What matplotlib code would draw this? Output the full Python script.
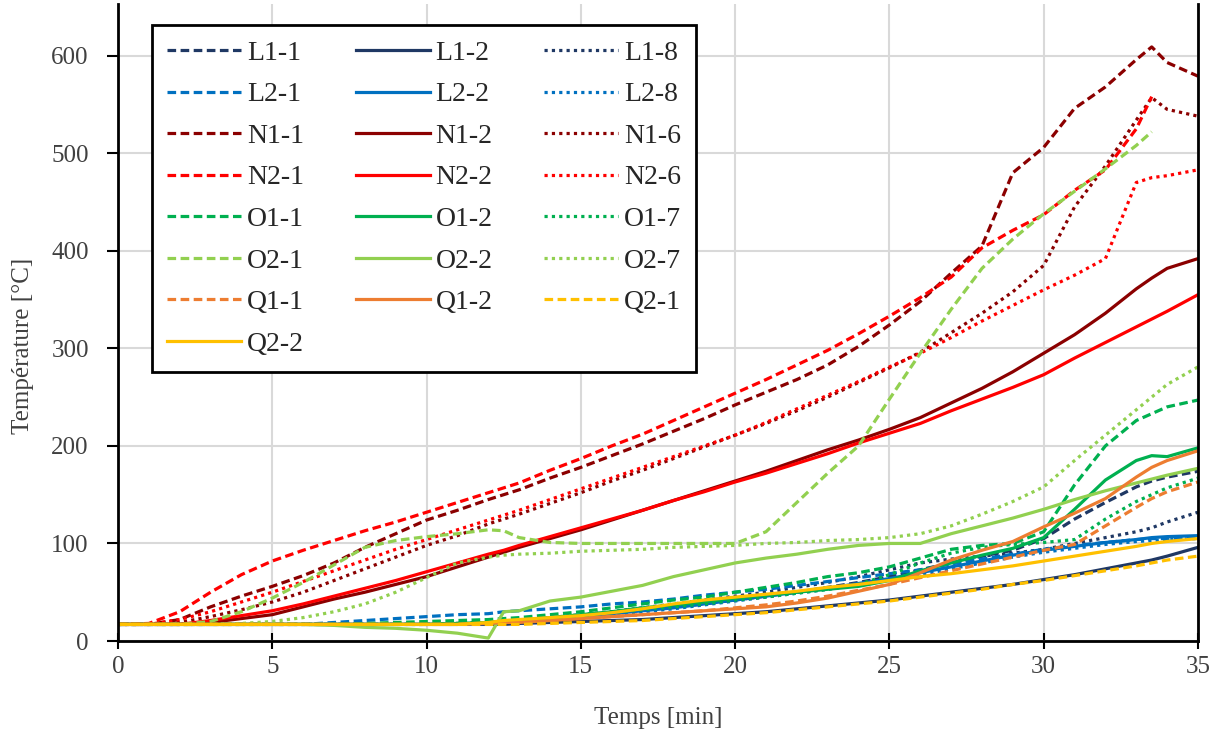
import numpy as np
import matplotlib
matplotlib.use("Agg")
import matplotlib.pyplot as plt

plt.rcParams['font.family'] = ['Liberation Serif', 'DejaVu Serif']

nan = np.nan

# time grid [min]
t = list(range(0, 13)) + [12.5] + list(range(13, 34)) + [33.5, 34, 35]

# temperatures [°C]
L1_1 = [17]*11 + [18, 19] + [20] + [21, 23, 26, 29, 32, 35, 38, 42, 46, 50, 55, 60, 66, 73, 80, 87, 93, 105, 125, 142, 158] + [164, 168, 174]
L1_2 = [17]*13 + [17] + [18, 19, 20, 21, 22, 24, 26, 28, 30, 33, 36, 39, 42, 46, 50, 54, 58, 63, 68, 74, 80] + [83, 87, 96]
L1_8 = [17]*11 + [18, 19] + [20] + [21, 24, 27, 30, 34, 38, 42, 46, 50, 55, 60, 66, 73, 80, 84, 87, 90, 94, 100, 106, 112] + [116, 122, 132]
L2_1 = [17, 17, 17, 17, 17, 17, 17, 19, 21, 23, 25, 27, 28] + [30] + [31, 33, 35, 38, 40, 43, 47, 50, 53, 57, 61, 65, 69, 73, 79, 84, 89, 94, 98, 101, 104] + [105, 105, 106]
L2_2 = [17]*12 + [18] + [19] + [20, 22, 25, 28, 31, 34, 38, 42, 46, 50, 54, 59, 64, 70, 76, 82, 88, 93, 97, 101, 104] + [106, 107, 108]
L2_8 = [17]*12 + [18] + [19] + [20, 22, 24, 27, 30, 33, 37, 41, 45, 49, 53, 58, 63, 68, 74, 80, 86, 91, 95, 99, 102] + [103, 104, 105]
N1_1 = [17, 17, 22, 35, 46, 56, 67, 80, 96, 110, 124, 134, 145] + [150] + [155, 167, 178, 190, 202, 215, 228, 242, 255, 268, 283, 302, 324, 348, 377, 405, 480, 506, 546, 568, 596] + [609, 593, 579]
N1_2 = [17, 17, 17, 19, 23, 27, 35, 43, 50, 58, 66, 76, 86] + [91] + [96, 105, 114, 124, 134, 144, 154, 164, 174, 185, 196, 206, 217, 229, 244, 259, 276, 295, 314, 336, 361] + [372, 382, 392]
N1_6 = [17, 17, 19, 25, 32, 40, 50, 62, 74, 86, 98, 108, 120] + [125] + [130, 141, 152, 164, 175, 187, 199, 211, 223, 236, 250, 265, 280, 296, 316, 336, 358, 385, 445, 487, 534] + [557, 545, 538]
N2_1 = [17, 18, 30, 50, 68, 82, 93, 103, 113, 122, 132, 142, 152] + [157] + [162, 175, 187, 200, 212, 226, 240, 254, 268, 283, 298, 315, 333, 352, 373, 403, 421, 437, 462, 483, 525] + [558, nan, nan]
N2_2 = [17, 17, 17, 21, 26, 31, 38, 46, 54, 62, 71, 80, 89] + [93] + [98, 107, 116, 125, 134, 144, 153, 163, 172, 182, 192, 203, 213, 223, 236, 248, 260, 273, 290, 306, 322] + [330, 338, 355]
N2_6 = [17, 17, 22, 30, 40, 50, 61, 72, 83, 94, 104, 114, 124] + [129] + [134, 145, 156, 167, 178, 189, 200, 211, 224, 238, 252, 266, 281, 295, 311, 328, 344, 360, 375, 392, 470] + [475, 477, 483]
O1_1 = [17]*8 + [18, 19, 20, 21, 22] + [23] + [24, 27, 30, 34, 38, 42, 45, 50, 55, 60, 66, 70, 76, 85, 94, 98, 100, 112, 160, 200, 226] + [233, 240, 247]
O1_2 = [17]*11 + [18, 19] + [20] + [21, 24, 27, 30, 34, 37, 40, 44, 47, 50, 53, 56, 62, 72, 80, 88, 95, 106, 135, 165, 185] + [190, 189, 198]
O1_7 = [17]*11 + [18, 19] + [20] + [21, 23, 26, 29, 32, 35, 38, 42, 45, 49, 53, 58, 68, 80, 90, 96, 99, 101, 104, 125, 143] + [150, 157, 167]
O2_1 = [17, 17, 17, 20, 30, 44, 60, 78, 96, 103, 107, 110, 114] + [113] + [106, 101, 100, 100, 100, 100, 100, 100, 112, 142, 172, 200, 248, 295, 340, 382, 412, 438, 461, 484, 508] + [522, nan, nan]
O2_2 = [17, 17, 17, 17, 17, 17, 17, 16, 14, 13, 11, 8, 3] + [30] + [31, 41, 45, 51, 57, 66, 73, 80, 85, 89, 94, 98, 100, 100, 110, 118, 126, 135, 145, 154, 162] + [166, 170, 177]
O2_7 = [17, 17, 17, 17, 18, 20, 24, 30, 38, 50, 65, 80, 86] + [88] + [89, 90, 92, 93, 94, 96, 97, 98, 100, 101, 103, 104, 106, 110, 118, 130, 143, 158, 185, 211, 237] + [250, 263, 281]
Q1_1 = [17]*12 + [18] + [19] + [19, 21, 23, 25, 27, 29, 31, 34, 37, 41, 46, 52, 58, 65, 72, 79, 86, 93, 99, 118, 137] + [146, 153, 163]
Q1_2 = [17]*12 + [18] + [19] + [19, 21, 23, 25, 27, 29, 31, 33, 35, 39, 44, 51, 58, 70, 83, 93, 102, 117, 131, 146, 168] + [178, 185, 195]
Q2_1 = [17]*13 + [17] + [17, 18, 19, 20, 21, 23, 25, 27, 29, 32, 35, 38, 41, 45, 49, 53, 58, 62, 67, 72, 77] + [80, 83, 87]
Q2_2 = [17]*12 + [19] + [21] + [22, 24, 26, 29, 33, 38, 42, 45, 48, 51, 55, 58, 62, 66, 69, 73, 77, 82, 87, 92, 97] + [100, 102, 105]

names = ['L1-1', 'L1-2', 'L1-8', 'L2-1', 'L2-2', 'L2-8', 'N1-1', 'N1-2', 'N1-6',
         'N2-1', 'N2-2', 'N2-6', 'O1-1', 'O1-2', 'O1-7', 'O2-1', 'O2-2', 'O2-7',
         'Q1-1', 'Q1-2', 'Q2-1', 'Q2-2']
series = [L1_1, L1_2, L1_8, L2_1, L2_2, L2_8, N1_1, N1_2, N1_6, N2_1, N2_2, N2_6,
          O1_1, O1_2, O1_7, O2_1, O2_2, O2_7, Q1_1, Q1_2, Q2_1, Q2_2]

colors = {'L1': '#1F3864', 'L2': '#0070C0', 'N1': '#8B0000', 'N2': '#FF0000',
          'O1': '#00B050', 'O2': '#92D050', 'Q1': '#ED7D31', 'Q2': '#FFC000'}
dash = (0, (2.7, 1.4))
dot = (0, (1.0, 1.3))
styles = {'L1-1': dash, 'L1-2': '-', 'L1-8': dot, 'L2-1': dash, 'L2-2': '-', 'L2-8': dot,
          'N1-1': dash, 'N1-2': '-', 'N1-6': dot, 'N2-1': dash, 'N2-2': '-', 'N2-6': dot,
          'O1-1': dash, 'O1-2': '-', 'O1-7': dot, 'O2-1': dash, 'O2-2': '-', 'O2-7': dot,
          'Q1-1': dash, 'Q1-2': '-', 'Q2-1': dash, 'Q2-2': '-'}

fig = plt.figure(figsize=(12.21, 7.38), dpi=100)
ax = fig.add_axes([118/1221, 97/738, 1080/1221, 637/738])

lines = {}
for name, vals in zip(names, series):
    ln, = ax.plot(t, vals, color=colors[name[:2]], linestyle=styles[name],
                  linewidth=2.3, label=name)
    lines[name] = ln

ax.set_xlim(0, 35)
ax.set_ylim(0, 653)
ax.set_xticks(range(0, 36, 5))
ax.set_yticks(range(0, 601, 100))
ax.grid(True, color='#D9D9D9', linewidth=1.5)
ax.set_axisbelow(True)
ax.spines['top'].set_visible(False)
for s in ['left', 'bottom', 'right']:
    ax.spines[s].set_linewidth(2)
    ax.spines[s].set_color('black')
ax.tick_params(axis='x', direction='inout', length=12, width=1.5, labelsize=18,
               labelcolor='#404040', pad=5)
ax.tick_params(axis='y', direction='out', length=8, width=1.5, labelsize=18,
               labelcolor='#404040', pad=13)
ax.set_xlabel('Temps [min]', fontsize=18, color='#404040')
ax.set_ylabel('Température [°C]', fontsize=18, color='#404040')
ax.xaxis.set_label_coords(0.5, -0.104)
ax.yaxis.set_label_coords(-0.078, 0.463)

order = ['L1-1', 'L2-1', 'N1-1', 'N2-1', 'O1-1', 'O2-1', 'Q1-1', 'Q2-2',
         'L1-2', 'L2-2', 'N1-2', 'N2-2', 'O1-2', 'O2-2', 'Q1-2',
         'L1-8', 'L2-8', 'N1-6', 'N2-6', 'O1-7', 'O2-7', 'Q2-1']
leg = ax.legend([lines[n] for n in order], order, ncol=3, loc='upper left',
                bbox_to_anchor=(0.0315, 0.967), borderaxespad=0, fontsize=20,
                frameon=True, fancybox=False, edgecolor='black', framealpha=1,
                handlelength=2.66, handletextpad=0.22, columnspacing=1.85,
                labelspacing=0.58, borderpad=0.55)
leg.get_frame().set_linewidth(2)
for txt in leg.get_texts():
    txt.set_color('#262626')

fig.savefig('out.png', dpi=100)
